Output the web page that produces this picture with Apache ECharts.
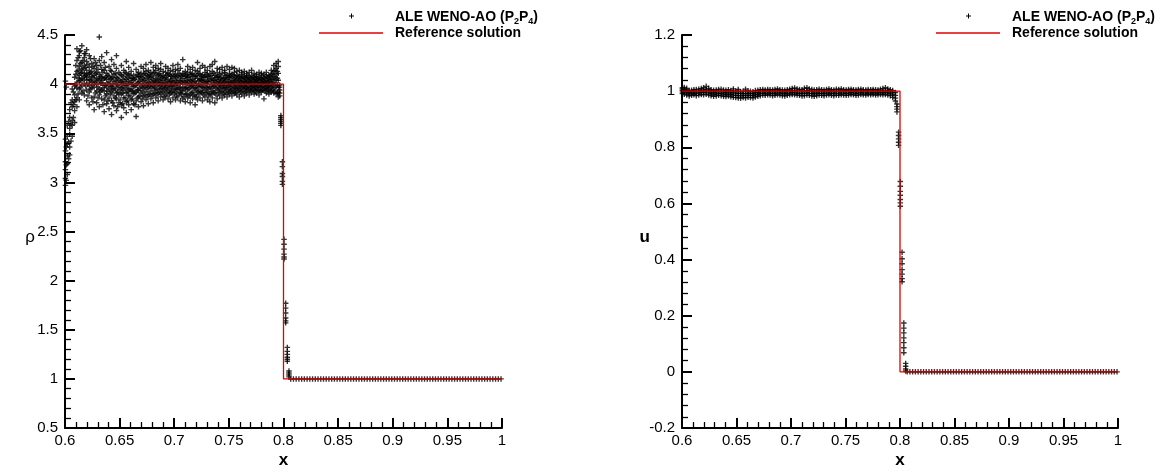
<!DOCTYPE html>
<html>
<head>
<meta charset="utf-8">
<script src="https://cdn.jsdelivr.net/npm/echarts@6/dist/echarts.min.js"></script>
<style>
  html, body { margin: 0; padding: 0; background: #fff; }
  #chart { width: 1164px; height: 474px; }
</style>
</head>
<body>
<div id="chart"></div>
<script>
// Saltzman piston problem at t = 0.6: density and velocity vs. x,
// cell values of the ALE WENO-AO (P2P4) scheme against the exact solution.

// ---- cell data, density: columns of [x, [rho values in that column]] ----
const rhoCloud = [
  [0.6004, [2.97, 3.04, 3.13, 3.21, 3.32, 3.44, 4.03]],
  [0.6021, [3.08, 3.19, 3.27, 3.39, 3.47, 3.58]],
  [0.6043, [3.28, 3.36, 3.49, 3.55, 3.66, 3.74]],
  [0.6066, [3.47, 3.58, 3.63, 3.77, 3.84, 3.95]],
  [0.6088, [3.61, 3.73, 3.82, 3.89, 3.98, 4.07]],
  [0.6109, [3.77, 3.86, 3.96, 4.02, 4.13, 4.24, 4.36]],
  [0.6131, [3.84, 3.95, 4.03, 4.09, 4.18, 4.29, 4.33]],
  [0.6154, [3.91, 3.99, 4.06, 4.12, 4.15, 4.22, 4.39]],
  [0.6177, [3.89, 4.01, 4.08, 4.11, 4.19, 4.27, 4.31]],
  [0.6198, [3.83, 3.94, 4.04, 4.07, 4.14, 4.23, 4.35]],
  [0.6222, [3.79, 3.92, 3.99, 4.05, 4.11, 4.17, 4.29]],
  [0.6245, [3.86, 3.96, 4.02, 4.08, 4.13, 4.21]],
  [0.6267, [3.74, 3.87, 3.97, 4.03, 4.09, 4.16, 4.26]],
  [0.6290, [3.81, 3.93, 4.00, 4.06, 4.12, 4.19]],
  [0.6314, [3.77, 3.89, 3.95, 4.04, 4.10, 4.24, 4.48]],
  [0.6336, [3.85, 3.94, 4.01, 4.07, 4.15, 4.28]],
  [0.6359, [3.72, 3.84, 3.93, 3.99, 4.06, 4.14, 4.22]],
  [0.6381, [3.80, 3.90, 3.97, 4.05, 4.11, 4.32]],
  [0.6403, [3.75, 3.86, 3.95, 4.02, 4.08, 4.18]],
  [0.6426, [3.69, 3.83, 3.92, 3.98, 4.06, 4.13, 4.25]],
  [0.6448, [3.78, 3.88, 3.96, 4.03, 4.10, 4.20]],
  [0.6471, [3.73, 3.85, 3.91, 4.00, 4.07, 4.16, 4.29]],
  [0.6493, [3.81, 3.89, 3.97, 4.04, 4.12]],
  [0.6516, [3.66, 3.79, 3.90, 3.96, 4.02, 4.09, 4.19]],
  [0.6538, [3.76, 3.86, 3.94, 4.01, 4.08, 4.14]],
  [0.6561, [3.71, 3.82, 3.91, 3.99, 4.05, 4.11, 4.23]],
  [0.6583, [3.79, 3.88, 3.95, 4.03, 4.10, 4.17]],
  [0.6606, [3.74, 3.84, 3.93, 4.00, 4.06, 4.13]],
  [0.6628, [3.80, 3.90, 3.97, 4.04, 4.09, 4.21]],
  [0.6651, [3.67, 3.83, 3.92, 3.99, 4.07, 4.15]],
  [0.6673, [3.77, 3.87, 3.94, 4.02, 4.08, 4.12]],
  [0.6696, [3.82, 3.91, 3.98, 4.05, 4.11, 4.18]],
  [0.6718, [3.78, 3.88, 3.96, 4.03, 4.10, 4.16]],
  [0.6741, [3.84, 3.92, 3.99, 4.06, 4.13, 4.20]],
  [0.6763, [3.80, 3.89, 3.97, 4.02, 4.08, 4.14]],
  [0.6786, [3.85, 3.93, 4.00, 4.07, 4.12, 4.22]],
  [0.6808, [3.81, 3.90, 3.98, 4.04, 4.11, 4.17]],
  [0.6831, [3.86, 3.94, 4.01, 4.06, 4.14, 4.19]],
  [0.6853, [3.83, 3.91, 3.99, 4.05, 4.10, 4.16]],
  [0.6876, [3.87, 3.95, 4.02, 4.08, 4.15, 4.21]],
  [0.6898, [3.84, 3.92, 3.98, 4.04, 4.09, 4.13]],
  [0.6921, [3.88, 3.96, 4.01, 4.07, 4.12, 4.18]],
  [0.6943, [3.85, 3.93, 3.99, 4.05, 4.11, 4.16]],
  [0.6966, [3.82, 3.91, 3.98, 4.03, 4.08, 4.14]],
  [0.6988, [3.86, 3.94, 4.00, 4.06, 4.13, 4.19]],
  [0.7011, [3.84, 3.92, 3.99, 4.04, 4.10, 4.15]],
  [0.7033, [3.87, 3.95, 4.01, 4.08, 4.14, 4.20]],
  [0.7056, [3.83, 3.91, 3.97, 4.03, 4.09, 4.16]],
  [0.7078, [3.85, 3.93, 4.00, 4.06, 4.11, 4.25]],
  [0.7101, [3.82, 3.90, 3.96, 4.02, 4.08, 4.13]],
  [0.7123, [3.86, 3.94, 4.01, 4.07, 4.12, 4.18]],
  [0.7146, [3.81, 3.89, 3.97, 4.04, 4.10, 4.15]],
  [0.7168, [3.85, 3.92, 3.99, 4.05, 4.11, 4.17]],
  [0.7191, [3.79, 3.88, 3.96, 4.03, 4.08, 4.14]],
  [0.7213, [3.84, 3.92, 3.98, 4.06, 4.13, 4.22]],
  [0.7236, [3.86, 3.93, 4.00, 4.05, 4.10, 4.16]],
  [0.7258, [3.83, 3.91, 3.97, 4.04, 4.09, 4.19]],
  [0.7281, [3.87, 3.94, 4.01, 4.07, 4.12, 4.17]],
  [0.7303, [3.84, 3.92, 3.98, 4.03, 4.08, 4.14]],
  [0.7326, [3.82, 3.90, 3.97, 4.05, 4.11, 4.18]],
  [0.7348, [3.86, 3.93, 4.00, 4.06, 4.13, 4.20]],
  [0.7371, [3.81, 3.91, 3.98, 4.04, 4.09, 4.23]],
  [0.7393, [3.85, 3.94, 4.01, 4.07, 4.12, 4.16]],
  [0.7416, [3.88, 3.95, 4.00, 4.05, 4.10, 4.15]],
  [0.7438, [3.86, 3.93, 3.99, 4.04, 4.11, 4.17]],
  [0.7461, [3.89, 3.96, 4.02, 4.06, 4.12, 4.14]],
  [0.7483, [3.87, 3.94, 3.99, 4.05, 4.09, 4.18]],
  [0.7506, [3.90, 3.95, 4.01, 4.07, 4.11, 4.15]],
  [0.7528, [3.88, 3.94, 4.00, 4.04, 4.10, 4.17]],
  [0.7551, [3.91, 3.96, 4.01, 4.06, 4.12, 4.16]],
  [0.7573, [3.89, 3.95, 3.99, 4.05, 4.09, 4.13]],
  [0.7596, [3.87, 3.94, 4.00, 4.04, 4.08, 4.14]],
  [0.7618, [3.90, 3.96, 4.01, 4.06, 4.10, 4.12]],
  [0.7641, [3.88, 3.95, 3.99, 4.03, 4.08, 4.13]],
  [0.7663, [3.91, 3.96, 4.00, 4.05, 4.09, 4.11]],
  [0.7686, [3.89, 3.95, 4.01, 4.04, 4.07, 4.12]],
  [0.7708, [3.92, 3.97, 4.00, 4.05, 4.09, 4.14]],
  [0.7731, [3.90, 3.95, 3.99, 4.03, 4.07, 4.11]],
  [0.7753, [3.91, 3.96, 4.00, 4.04, 4.08, 4.10]],
  [0.7776, [3.89, 3.94, 3.99, 4.04, 4.07, 4.12]],
  [0.7798, [3.92, 3.97, 4.01, 4.05, 4.09, 4.11]],
  [0.7821, [3.85, 3.95, 4.00, 4.03, 4.07, 4.10]],
  [0.7843, [3.91, 3.96, 4.00, 4.04, 4.08, 4.12]],
  [0.7866, [3.90, 3.95, 3.99, 4.03, 4.06, 4.09]],
  [0.7888, [3.92, 3.97, 4.01, 4.05, 4.10, 4.14]],
  [0.7911, [3.91, 3.96, 4.02, 4.08, 4.13, 4.19]],
  [0.7933, [3.90, 3.97, 4.04, 4.10, 4.16, 4.21]],
  [0.7952, [3.87, 3.92, 3.97, 4.04, 4.11, 4.18, 4.23]]
];

// a second, staggered family of cells (the mesh is two-dimensional)
const rhoCloudB = [
  [0.6012, [3.02, 3.18, 3.36, 3.97]],
  [0.6033, [3.24, 3.41, 3.62]],
  [0.6055, [3.42, 3.59, 3.81]],
  [0.6077, [3.66, 3.79, 3.92]],
  [0.6099, [3.84, 3.99, 4.10, 4.19]],
  [0.6120, [3.90, 4.06, 4.14, 4.27]],
  [0.6142, [3.97, 4.04, 4.11, 4.21, 4.34]],
  [0.6165, [3.93, 4.05, 4.16, 4.24]],
  [0.6188, [3.98, 4.09, 4.17, 4.31]],
  [0.6210, [3.88, 4.00, 4.10, 4.20]],
  [0.6233, [3.95, 4.04, 4.12, 4.26]],
  [0.6256, [3.82, 3.99, 4.07, 4.18]],
  [0.6279, [3.91, 4.02, 4.11, 4.22]],
  [0.6302, [3.86, 3.97, 4.05, 4.15]],
  [0.6325, [3.92, 4.01, 4.08, 4.19]],
  [0.6347, [3.79, 3.96, 4.04, 4.12]],
  [0.6370, [3.88, 3.99, 4.07, 4.17]],
  [0.6392, [3.83, 3.93, 4.01, 4.09]],
  [0.6415, [3.90, 3.98, 4.05, 4.14]],
  [0.6437, [3.81, 3.94, 4.00, 4.07]],
  [0.6460, [3.86, 3.95, 4.03, 4.11]],
  [0.6482, [3.77, 3.92, 3.99, 4.06]],
  [0.6505, [3.84, 3.94, 4.02, 4.10]],
  [0.6527, [3.80, 3.91, 3.98, 4.05]],
  [0.6550, [3.86, 3.96, 4.03, 4.12]],
  [0.6572, [3.83, 3.92, 3.99, 4.07]],
  [0.6595, [3.88, 3.95, 4.02, 4.09]],
  [0.6617, [3.85, 3.93, 4.00, 4.06]],
  [0.6640, [3.79, 3.91, 3.98, 4.05]],
  [0.6662, [3.86, 3.94, 4.01, 4.10]],
  [0.6685, [3.88, 3.96, 4.03, 4.08]],
  [0.6707, [3.85, 3.93, 4.00, 4.07]],
  [0.6730, [3.89, 3.97, 4.04, 4.11]],
  [0.6752, [3.87, 3.95, 4.01, 4.09]],
  [0.6775, [3.90, 3.98, 4.05, 4.10]],
  [0.6797, [3.88, 3.96, 4.02, 4.08]],
  [0.6820, [3.91, 3.97, 4.03, 4.12]],
  [0.6842, [3.89, 3.95, 4.02, 4.09]],
  [0.6865, [3.92, 3.98, 4.04, 4.11]],
  [0.6887, [3.90, 3.96, 4.01, 4.07]],
  [0.6910, [3.87, 3.94, 4.00, 4.06]],
  [0.6932, [3.91, 3.97, 4.03, 4.09]],
  [0.6955, [3.89, 3.95, 4.02, 4.10]],
  [0.6977, [3.92, 3.98, 4.03, 4.08]],
  [0.7000, [3.90, 3.96, 4.02, 4.09]],
  [0.7022, [3.88, 3.95, 4.01, 4.07]],
  [0.7045, [3.91, 3.97, 4.04, 4.11]],
  [0.7067, [3.89, 3.94, 4.02, 4.08]],
  [0.7090, [3.87, 3.96, 4.03, 4.10]],
  [0.7112, [3.90, 3.97, 4.04, 4.09]],
  [0.7135, [3.88, 3.95, 4.01, 4.07]],
  [0.7157, [3.91, 3.98, 4.03, 4.10]],
  [0.7180, [3.89, 3.96, 4.02, 4.08]],
  [0.7202, [3.87, 3.94, 4.01, 4.09]],
  [0.7225, [3.90, 3.97, 4.03, 4.11]],
  [0.7247, [3.92, 3.98, 4.04, 4.08]],
  [0.7270, [3.89, 3.96, 4.02, 4.07]],
  [0.7292, [3.91, 3.97, 4.03, 4.10]],
  [0.7315, [3.88, 3.95, 4.02, 4.08]],
  [0.7337, [3.90, 3.96, 4.03, 4.09]],
  [0.7360, [3.92, 3.98, 4.04, 4.11]],
  [0.7382, [3.89, 3.96, 4.02, 4.07]],
  [0.7405, [3.91, 3.97, 4.03, 4.08]],
  [0.7427, [3.92, 3.98, 4.02, 4.07]],
  [0.7450, [3.90, 3.96, 4.01, 4.06]],
  [0.7472, [3.92, 3.97, 4.03, 4.09]],
  [0.7495, [3.91, 3.98, 4.02, 4.07]],
  [0.7517, [3.93, 3.97, 4.02, 4.08]],
  [0.7540, [3.92, 3.98, 4.03, 4.09]],
  [0.7562, [3.91, 3.96, 4.02, 4.07]],
  [0.7585, [3.93, 3.98, 4.03, 4.08]],
  [0.7607, [3.92, 3.97, 4.02, 4.06]],
  [0.7630, [3.93, 3.98, 4.03, 4.07]],
  [0.7652, [3.92, 3.97, 4.02, 4.06]],
  [0.7675, [3.94, 3.98, 4.02, 4.07]],
  [0.7697, [3.93, 3.97, 4.02, 4.06]],
  [0.7720, [3.94, 3.98, 4.03, 4.07]],
  [0.7742, [3.93, 3.97, 4.02, 4.06]],
  [0.7765, [3.94, 3.98, 4.02, 4.05]],
  [0.7787, [3.93, 3.97, 4.01, 4.06]],
  [0.7810, [3.94, 3.98, 4.02, 4.05]],
  [0.7832, [3.93, 3.97, 4.01, 4.06]],
  [0.7855, [3.94, 3.98, 4.02, 4.07]],
  [0.7877, [3.93, 3.98, 4.03, 4.08]],
  [0.7900, [3.94, 3.99, 4.05, 4.11]],
  [0.7922, [3.93, 4.00, 4.07, 4.14]],
  [0.7944, [3.91, 3.99, 4.06, 4.13]]
];

// cells inside the shock layer
const rhoShock = [
  [0.7965, [3.88, 3.91, 3.94, 3.97, 3.99]],
  [0.7976, [3.58, 3.60, 3.62, 3.64, 3.66, 3.68]],
  [0.7990, [2.98, 3.01, 3.06, 3.09, 3.16, 3.21]],
  [0.8005, [2.22, 2.24, 2.27, 2.32, 2.37, 2.42]],
  [0.8020, [1.57, 1.59, 1.62, 1.67, 1.72, 1.77]],
  [0.8035, [1.18, 1.20, 1.22, 1.25, 1.28, 1.32]],
  [0.8050, [1.02, 1.04, 1.06, 1.08]]
];

// ---- cell data, velocity ----
const uCloud = [
  [0.6004, [0.991, 0.997, 1.003, 1.008, 1.012]],
  [0.6021, [0.989, 0.995, 1.001, 1.006, 1.013]],
  [0.6043, [0.986, 0.993, 0.999, 1.004, 1.010]],
  [0.6066, [0.983, 0.990, 0.996, 1.002]],
  [0.6088, [0.985, 0.991, 0.997, 1.003]],
  [0.6109, [0.987, 0.993, 0.999, 1.005]],
  [0.6131, [0.984, 0.992, 0.998, 1.006]],
  [0.6154, [0.986, 0.994, 1.000, 1.007]],
  [0.6177, [0.988, 0.995, 1.002, 1.009]],
  [0.6198, [0.987, 0.996, 1.004, 1.012]],
  [0.6222, [0.989, 0.997, 1.005, 1.017]],
  [0.6245, [0.986, 0.994, 1.002, 1.010]],
  [0.6267, [0.984, 0.991, 0.998, 1.005]],
  [0.6290, [0.982, 0.989, 0.996, 1.003]],
  [0.6314, [0.983, 0.990, 0.997, 1.004]],
  [0.6336, [0.985, 0.992, 0.999, 1.006]],
  [0.6359, [0.984, 0.991, 0.998, 1.007]],
  [0.6381, [0.982, 0.990, 0.997, 1.004]],
  [0.6403, [0.981, 0.988, 0.996, 1.003]],
  [0.6426, [0.983, 0.990, 0.998, 1.005]],
  [0.6448, [0.980, 0.988, 0.995, 1.002]],
  [0.6471, [0.978, 0.986, 0.994, 1.001, 1.008]],
  [0.6493, [0.977, 0.985, 0.993, 1.000]],
  [0.6516, [0.976, 0.984, 0.992, 0.999, 1.006]],
  [0.6538, [0.975, 0.983, 0.991, 0.998]],
  [0.6561, [0.977, 0.985, 0.992, 1.000]],
  [0.6583, [0.976, 0.984, 0.991, 0.999, 1.007]],
  [0.6606, [0.978, 0.986, 0.993, 1.001]],
  [0.6628, [0.977, 0.985, 0.992, 1.000]],
  [0.6651, [0.976, 0.984, 0.991, 0.998]],
  [0.6673, [0.979, 0.987, 0.994, 1.002]],
  [0.6696, [0.982, 0.989, 0.996, 1.003]],
  [0.6718, [0.984, 0.991, 0.998, 1.005]],
  [0.6741, [0.986, 0.993, 1.000, 1.006]],
  [0.6763, [0.985, 0.992, 0.999, 1.004]],
  [0.6786, [0.987, 0.994, 1.000, 1.006]],
  [0.6808, [0.986, 0.993, 0.999, 1.005]],
  [0.6831, [0.984, 0.991, 0.998, 1.004]],
  [0.6853, [0.985, 0.992, 0.999, 1.006]],
  [0.6876, [0.987, 0.994, 1.001, 1.008]],
  [0.6898, [0.986, 0.993, 1.000, 1.005]],
  [0.6921, [0.984, 0.991, 0.998, 1.004]],
  [0.6943, [0.983, 0.990, 0.997, 1.003]],
  [0.6966, [0.985, 0.992, 0.999, 1.005]],
  [0.6988, [0.987, 0.994, 1.001, 1.007]],
  [0.7011, [0.988, 0.995, 1.002, 1.009]],
  [0.7033, [0.987, 0.994, 1.002, 1.011]],
  [0.7056, [0.986, 0.993, 1.000, 1.008]],
  [0.7078, [0.985, 0.992, 0.999, 1.006]],
  [0.7101, [0.983, 0.991, 0.998, 1.005]],
  [0.7123, [0.984, 0.992, 1.000, 1.010]],
  [0.7146, [0.986, 0.994, 1.002, 1.012]],
  [0.7168, [0.985, 0.993, 1.001, 1.008]],
  [0.7191, [0.983, 0.991, 0.999, 1.006]],
  [0.7213, [0.982, 0.990, 0.997, 1.004]],
  [0.7236, [0.984, 0.991, 0.998, 1.005]],
  [0.7258, [0.986, 0.993, 1.000, 1.007]],
  [0.7281, [0.985, 0.992, 0.999, 1.005]],
  [0.7303, [0.984, 0.991, 0.998, 1.004]],
  [0.7326, [0.986, 0.993, 1.000, 1.006]],
  [0.7348, [0.987, 0.994, 1.001, 1.008]],
  [0.7371, [0.985, 0.992, 0.999, 1.005]],
  [0.7393, [0.984, 0.991, 0.998, 1.004]],
  [0.7416, [0.986, 0.993, 1.000, 1.007]],
  [0.7438, [0.985, 0.992, 0.999, 1.006]],
  [0.7461, [0.987, 0.994, 1.001, 1.008]],
  [0.7483, [0.986, 0.993, 1.000, 1.005]],
  [0.7506, [0.985, 0.992, 0.999, 1.004]],
  [0.7528, [0.986, 0.993, 1.000, 1.006]],
  [0.7551, [0.988, 0.995, 1.001, 1.007]],
  [0.7573, [0.987, 0.994, 1.000, 1.005]],
  [0.7596, [0.985, 0.992, 0.999, 1.004]],
  [0.7618, [0.986, 0.993, 1.000, 1.006]],
  [0.7641, [0.988, 0.995, 1.001, 1.007]],
  [0.7663, [0.987, 0.994, 1.000, 1.005]],
  [0.7686, [0.986, 0.993, 0.999, 1.004]],
  [0.7708, [0.988, 0.994, 1.000, 1.006]],
  [0.7731, [0.987, 0.993, 0.999, 1.005]],
  [0.7753, [0.988, 0.995, 1.001, 1.006]],
  [0.7776, [0.986, 0.993, 1.000, 1.005]],
  [0.7798, [0.987, 0.994, 1.000, 1.004]],
  [0.7821, [0.988, 0.995, 1.001, 1.007]],
  [0.7843, [0.987, 0.994, 1.000, 1.009]],
  [0.7866, [0.988, 0.995, 1.002, 1.012]],
  [0.7888, [0.986, 0.994, 1.001, 1.008]],
  [0.7911, [0.984, 0.992, 0.999, 1.005]],
  [0.7933, [0.978, 0.988, 0.996, 1.002]]
];

const uShock = [
  [0.7958, [0.995, 0.985, 0.975, 0.965]],
  [0.7972, [0.954, 0.945, 0.936, 0.926]],
  [0.7987, [0.854, 0.842, 0.830, 0.818, 0.807]],
  [0.8003, [0.678, 0.661, 0.643, 0.629, 0.614, 0.602, 0.590]],
  [0.8019, [0.426, 0.403, 0.385, 0.364, 0.348, 0.332, 0.321]],
  [0.8035, [0.174, 0.156, 0.139, 0.121, 0.104, 0.086, 0.068]],
  [0.8052, [0.030, 0.020, 0.010, 0.003]]
];

// undisturbed gas ahead of the shock
const aheadX = [
  0.8066, 0.8091, 0.8116, 0.8141, 0.8166, 0.8191, 0.8216, 0.8241, 0.8266, 0.8291,
  0.8316, 0.8341, 0.8366, 0.8391, 0.8416, 0.8441, 0.8466, 0.8491, 0.8516, 0.8541,
  0.8566, 0.8591, 0.8616, 0.8641, 0.8666, 0.8691, 0.8716, 0.8741, 0.8766, 0.8791,
  0.8816, 0.8841, 0.8866, 0.8891, 0.8916, 0.8941, 0.8966, 0.8991, 0.9016, 0.9041,
  0.9066, 0.9091, 0.9116, 0.9141, 0.9166, 0.9191, 0.9216, 0.9241, 0.9266, 0.9291,
  0.9316, 0.9341, 0.9366, 0.9391, 0.9416, 0.9441, 0.9466, 0.9491, 0.9516, 0.9541,
  0.9566, 0.9591, 0.9616, 0.9641, 0.9666, 0.9691, 0.9716, 0.9741, 0.9766, 0.9791,
  0.9816, 0.9841, 0.9866, 0.9891, 0.9916, 0.9941, 0.9966, 0.9991
];
const rhoAhead = 1.0;
const uAhead = 0.0;

// exact solution (piston at x = 0.6, shock at x = 0.8)
const refX   = [0.6, 0.8, 0.8, 1.0];
const refRho = [4.0, 4.0, 1.0, 1.0];
const refU   = [1.0, 1.0, 0.0, 0.0];

const seriesNames = ['ALE WENO-AO (P2P4)', 'Reference solution'];

// ---- helpers ----
function flatten(cols) {
  const out = [];
  cols.forEach(function (c) { c[1].forEach(function (v) { out.push([c[0], v]); }); });
  return out;
}
function aheadPoints(value) {
  return aheadX.map(function (x) { return [x, value]; });
}
function refPoints(ys) {
  return refX.map(function (x, i) { return [x, ys[i]]; });
}

const FONT = '"Liberation Sans", Arial, Helvetica, sans-serif';
// plus-shaped marker, arms 1/4 of the symbol size
const PLUS = 'path://M3,0H5V3H8V5H5V8H3V5H0V3H3Z';

function xAxisOf(gi) {
  return {
    type: 'value', gridIndex: gi, min: 0.6, max: 1, interval: 0.05,
    name: 'x', nameLocation: 'middle', nameGap: 24, nameMoveOverlap: false,
    nameTextStyle: { color: '#000', fontFamily: FONT, fontSize: 17, fontWeight: 'bold' },
    axisLine: { show: true, onZero: false, lineStyle: { color: '#000', width: 2 } },
    axisTick: { show: true, inside: true, length: 10, lineStyle: { color: '#000', width: 2 } },
    minorTick: { show: true, splitNumber: 5, length: 6, lineStyle: { color: '#000', width: 1.3 } },
    axisLabel: { color: '#000', fontFamily: FONT, fontSize: 15, margin: 5 },
    splitLine: { show: false }, minorSplitLine: { show: false }
  };
}
function yAxisOf(gi, min, max, interval, name, bold, gap) {
  return {
    type: 'value', gridIndex: gi, min: min, max: max, interval: interval,
    name: name, nameLocation: 'middle', nameGap: gap, nameRotate: 0, nameMoveOverlap: false,
    nameTextStyle: {
      color: '#000', fontFamily: FONT, fontSize: 17, fontWeight: bold ? 'bold' : 'normal',
      verticalAlign: 'top', lineHeight: 12
    },
    axisLine: { show: true, onZero: false, lineStyle: { color: '#000', width: 2 } },
    axisTick: { show: true, inside: true, length: 10, lineStyle: { color: '#000', width: 2 } },
    minorTick: { show: true, splitNumber: 5, length: 6, lineStyle: { color: '#000', width: 1.3 } },
    axisLabel: { color: '#000', fontFamily: FONT, fontSize: 15, margin: 7 },
    splitLine: { show: false }, minorSplitLine: { show: false }
  };
}

function cellSeries(gi, points) {
  return {
    name: seriesNames[0], type: 'scatter', xAxisIndex: gi, yAxisIndex: gi,
    symbol: PLUS, symbolSize: 5.5, itemStyle: { color: '#000' },
    data: points, z: 2, animation: false, silent: true
  };
}
function refSeries(gi, ys) {
  return {
    name: seriesNames[1], type: 'line', xAxisIndex: gi, yAxisIndex: gi,
    symbol: 'none', lineStyle: { color: '#e00000', width: 1.3 },
    data: refPoints(ys), z: 3, animation: false, silent: true
  };
}

// legend block, drawn in the top-right corner of each panel
function legendBlock(left) {
  const textLeft = left + 76;
  return [
    { type: 'rect', shape: { x: left + 30, y: 15.5, width: 5, height: 1 }, style: { fill: '#000' } },
    { type: 'rect', shape: { x: left + 32, y: 13.5, width: 1, height: 5 }, style: { fill: '#000' } },
    { type: 'line', shape: { x1: left, y1: 33, x2: left + 64, y2: 33 }, style: { stroke: '#e00000', lineWidth: 1.3 } },
    {
      type: 'text', x: textLeft, y: 17,
      style: {
        text: '{b|ALE WENO-AO (P}{s|2}{b|P}{s|4}{b|)}',
        verticalAlign: 'middle', align: 'left',
        rich: {
          b: { fontFamily: FONT, fontSize: 14, fontWeight: 'bold', fill: '#000' },
          s: { fontFamily: FONT, fontSize: 9, fontWeight: 'bold', fill: '#000', padding: [10, 0, 0, 0] }
        }
      }
    },
    {
      type: 'text', x: textLeft, y: 33,
      style: {
        text: 'Reference solution', verticalAlign: 'middle', align: 'left',
        fontFamily: FONT, fontSize: 14, fontWeight: 'bold', fill: '#000'
      }
    }
  ];
}

const chart = echarts.init(document.getElementById('chart'), null, { renderer: 'canvas' });
chart.setOption({
  backgroundColor: '#fff',
  animation: false,
  grid: [
    { left: 65, top: 35, width: 437, height: 398, containLabel: false },
    { left: 682, top: 35, width: 436, height: 398, containLabel: false }
  ],
  xAxis: [xAxisOf(0), xAxisOf(1)],
  yAxis: [
    yAxisOf(0, 0.5, 4.5, 0.5, 'ρ', false, 30),
    yAxisOf(1, -0.2, 1.2, 0.2, 'u', true, 32)
  ],
  series: [
    cellSeries(0, flatten(rhoCloud).concat(flatten(rhoCloudB), flatten(rhoShock), aheadPoints(rhoAhead))),
    refSeries(0, refRho),
    cellSeries(1, flatten(uCloud).concat(flatten(uShock), aheadPoints(uAhead))),
    refSeries(1, refU)
  ],
  graphic: legendBlock(319).concat(legendBlock(936))
});
</script>
</body>
</html>
